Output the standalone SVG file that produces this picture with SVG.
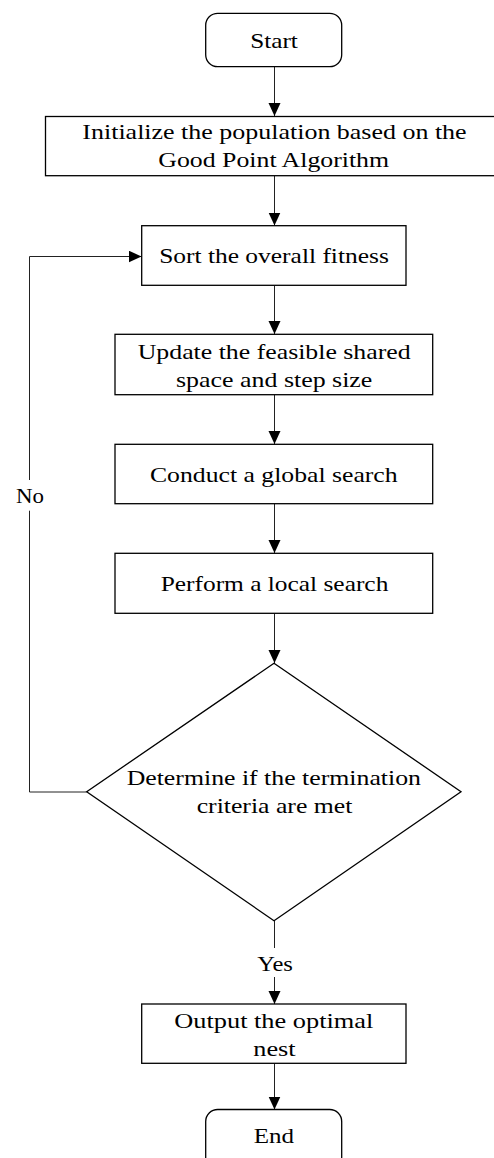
<svg xmlns="http://www.w3.org/2000/svg" width="494" height="1158" viewBox="0 0 494 1158">
<style>
.box{fill:#fff;stroke:#000;stroke-width:1.3}
.conn{fill:none;stroke:#222;stroke-width:1}
text{font-family:"Liberation Serif","Times New Roman",serif;font-size:22px;fill:#000;text-anchor:middle}
</style>
<defs>
<marker id="arr" markerUnits="userSpaceOnUse" markerWidth="14" markerHeight="13" refX="13" refY="6" orient="auto">
<path d="M0,0 L13,6 L0,12 z" fill="#000"/>
</marker>
</defs>
<rect x="0" y="0" width="494" height="1158" fill="#fff"/>
<g id="connectors">
<line class="conn" x1="274.5" y1="67" x2="274.5" y2="116" marker-end="url(#arr)"/>
<line class="conn" x1="274.5" y1="176" x2="274.5" y2="225.5" marker-end="url(#arr)"/>
<line class="conn" x1="274.5" y1="285.5" x2="274.5" y2="334" marker-end="url(#arr)"/>
<line class="conn" x1="274.5" y1="395" x2="274.5" y2="444" marker-end="url(#arr)"/>
<line class="conn" x1="274.5" y1="504" x2="274.5" y2="553" marker-end="url(#arr)"/>
<line class="conn" x1="274.5" y1="613.5" x2="274.5" y2="663" marker-end="url(#arr)"/>
<line class="conn" x1="274.5" y1="921" x2="274.5" y2="948"/>
<line class="conn" x1="274.5" y1="977" x2="274.5" y2="1004" marker-end="url(#arr)"/>
<line class="conn" x1="274.5" y1="1063.5" x2="274.5" y2="1109.5" marker-end="url(#arr)"/>
<polyline class="conn" points="86.7,792 29.5,792 29.5,510.7"/>
<polyline class="conn" points="29.5,480 29.5,256.5 141.5,256.5" marker-end="url(#arr)"/>
<text x="30" y="503.3" textLength="28" lengthAdjust="spacingAndGlyphs">No</text>
<text x="275" y="970.7" textLength="35.7" lengthAdjust="spacingAndGlyphs">Yes</text>
</g>
<g id="start">
<rect class="box" x="205.7" y="13.3" width="136" height="53.4" rx="12"/>
<text x="274" y="48.3" textLength="47.7" lengthAdjust="spacingAndGlyphs">Start</text>
</g>
<g id="init">
<rect class="box" x="45.5" y="116.5" width="460" height="59.2"/>
<text x="274.5" y="139.3" textLength="384.3" lengthAdjust="spacingAndGlyphs">Initialize the population based on the</text>
<text x="273.7" y="167.3" textLength="230.7" lengthAdjust="spacingAndGlyphs">Good Point Algorithm</text>
</g>
<g id="sort">
<rect class="box" x="141.7" y="225.7" width="264.3" height="59.6"/>
<text x="274" y="263" textLength="229.7" lengthAdjust="spacingAndGlyphs">Sort the overall fitness</text>
</g>
<g id="update">
<rect class="box" x="115" y="334.3" width="317.7" height="60.4"/>
<text x="274.2" y="359.3" textLength="273" lengthAdjust="spacingAndGlyphs">Update the feasible shared</text>
<text x="274.2" y="387.3" textLength="196.3" lengthAdjust="spacingAndGlyphs">space and step size</text>
</g>
<g id="global">
<rect class="box" x="115" y="444.3" width="317.7" height="59.4"/>
<text x="273.8" y="481.7" textLength="247.7" lengthAdjust="spacingAndGlyphs">Conduct a global search</text>
</g>
<g id="local">
<rect class="box" x="115" y="553.3" width="317.7" height="60"/>
<text x="274.5" y="590.7" textLength="227.7" lengthAdjust="spacingAndGlyphs">Perform a local search</text>
</g>
<g id="decision">
<polygon class="box" points="274,663.3 461,791.7 274,920.7 86.7,791.7"/>
<text x="273.8" y="785" textLength="294.3" lengthAdjust="spacingAndGlyphs">Determine if the termination</text>
<text x="274.5" y="813.3" textLength="155.7" lengthAdjust="spacingAndGlyphs">criteria are met</text>
</g>
<g id="output">
<rect class="box" x="141.7" y="1004" width="264.3" height="59.3"/>
<text x="273.8" y="1027.7" textLength="199" lengthAdjust="spacingAndGlyphs">Output the optimal</text>
<text x="274.5" y="1055.7" textLength="42.3" lengthAdjust="spacingAndGlyphs">nest</text>
</g>
<g id="end">
<rect class="box" x="205.7" y="1109.5" width="136" height="60" rx="12"/>
<text x="274" y="1143.3" textLength="40.3" lengthAdjust="spacingAndGlyphs">End</text>
</g>
</svg>
